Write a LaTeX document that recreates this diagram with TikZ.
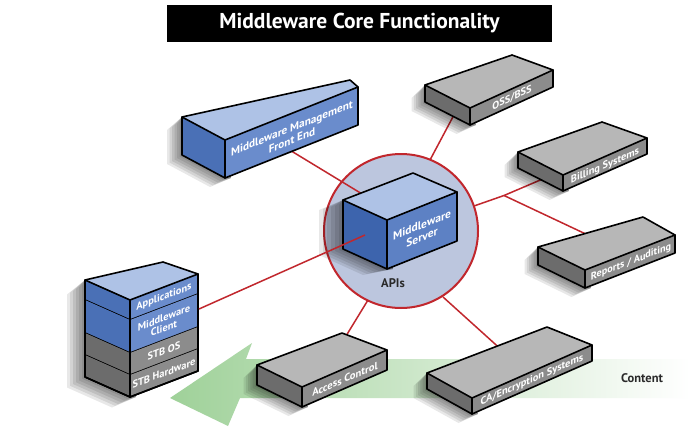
\documentclass[tikz,border=0pt]{standalone}
\usepackage{fontspec}
\setmainfont{PT Sans}
\usetikzlibrary{calc}
\definecolor{topblue}{HTML}{AEC2E6}
\definecolor{frontblue}{HTML}{6A8CCC}
\definecolor{sideblue}{HTML}{4A70B6}
\definecolor{srvfront}{HTML}{5D81C4}
\definecolor{srvside}{HTML}{3D64AD}
\definecolor{topgray}{HTML}{B7B7B7}
\definecolor{frontgray}{HTML}{8C8C8C}
\definecolor{sidegray}{HTML}{6C6C6C}
\definecolor{linkred}{HTML}{C1272D}
\definecolor{hubfill}{HTML}{BCC6DE}
\definecolor{arrowgreen}{HTML}{9FD199}
\definecolor{labeldark}{HTML}{2A2A2A}

% corners of a slab: name, back-left-top, front-left-top, front-right-top, back-right-top, height
\newcommand\defslab[6]{%
  \coordinate (#1-blt) at #2;
  \coordinate (#1-flt) at #3;
  \coordinate (#1-frt) at #4;
  \coordinate (#1-brt) at #5;
  \coordinate (#1-blb) at ($(#1-blt)+(0,#6)$);
  \coordinate (#1-flb) at ($(#1-flt)+(0,#6)$);
  \coordinate (#1-frb) at ($(#1-frt)+(0,#6)$);
}
% paint a slab: name, top colour, side colour, front colour
\newcommand\paintslab[4]{%
  \fill[#2] (#1-blt) -- (#1-flt) -- (#1-frt) -- (#1-brt) -- cycle;
  \fill[#3] (#1-blt) -- (#1-flt) -- (#1-flb) -- (#1-blb) -- cycle;
  \fill[#4] (#1-flt) -- (#1-frt) -- (#1-frb) -- (#1-flb) -- cycle;
  \draw[boxedge] (#1-blt) -- (#1-brt) -- (#1-frt) -- (#1-frb) -- (#1-flb) -- (#1-blb) -- cycle;
  \draw[boxedge] (#1-blt) -- (#1-flt) -- (#1-frt) (#1-flt) -- (#1-flb);
}
% soft shadow on the left of a slab: name, dx, dy
\newcommand\slabshadow[3]{%
  \foreach \t in {0.25,0.5,0.75,1,1.25,1.5}{%
    \fill[black, opacity=0.09]
      (#1-blt) -- ($(#1-blt)+\t*(#2,#3)+(0,4)$) -- ($(#1-blb)+\t*(#2,#3)$) -- ($(#1-flb)+\t*(#2,#3)$) -- ($(#1-flb)+(6,0)$) -- (#1-flt) -- cycle;
  }%
}
% slanted text on a front face: node name, centre, slant, font, text
\newcommand\facelabel[5]{%
  \begin{scope}[shift={#2}, yslant=#3]
    \node[facetxt, font=#4, transform shape] (#1) at (0,0) {#5};
  \end{scope}%
}

\begin{document}
\begin{tikzpicture}[x=1pt, y=-1pt,
  boxedge/.style={black, line width=1.6pt, line join=round, line cap=round},
  link/.style={linkred, line width=1.5pt},
  hubring/.style={draw=linkred, fill=hubfill, line width=2pt},
  facetxt/.style={text=white, align=center, inner sep=0pt},
  titlebox/.style={fill=black, text=white, minimum width=385pt, minimum height=37pt,
    inner sep=0pt, font=\fontsize{21.5}{24}\selectfont\bfseries},
  plainlabel/.style={text=labeldark, inner sep=0pt, font=\fontsize{12.5}{14}\selectfont\bfseries}]
\useasboundingbox (0,0) rectangle (695,428);
\fill[white] (0,0) rectangle (695,428);

% title
\node[titlebox] (title) at (359.5,23.5) {Middleware Core Functionality};

% content arrow
\shade[left color=arrowgreen, right color=white]
  (170,398) -- (252,343) -- (246,359) -- (690,359) -- (690,398) -- (240,398) -- (228,426) -- cycle;
\node[plainlabel] (content) at (642,378) {Content};

% geometry
\defslab{mmfe}{(182,117)}{(225,140)}{(358,87)}{(350,80)}{38}
\defslab{srv}{(343,200)}{(387,220)}{(457,192)}{(413,173)}{49}
\defslab{oss}{(425,85)}{(470,108)}{(553,70)}{(512,55)}{17}
\defslab{bill}{(518,152)}{(563,175)}{(647,138)}{(602,122)}{16}
\defslab{rep}{(538,247)}{(585,270)}{(675,235)}{(643,217)}{18}
\defslab{acc}{(257,365)}{(302,387)}{(387,350)}{(342,333)}{20}
\defslab{ca}{(427,373)}{(472,398)}{(592,345)}{(547,327)}{16}
\defslab{stb}{(85,280)}{(130,300)}{(198,274)}{(163,262)}{97}

% connector end points
\coordinate (hub) at (401,231);
\coordinate (pOSS) at (430,160);
\coordinate (eOSS) at (455,113);
\coordinate (pBill) at (474,206);
\coordinate (jct) at (504,195.5);
\coordinate (eBill) at (545,178);
\coordinate (eRep) at (590,236);
\coordinate (pCA) at (443,297);
\coordinate (eCA) at (505,353);
\coordinate (pAcc) at (368,300);
\coordinate (eAcc) at (346,336);
\coordinate (sMM) at (288,149);
\coordinate (eMM) at (372,200);
\coordinate (sSTB) at (199,309);
\coordinate (eSTB) at (365,235);

% connectors to the outer systems
\draw[link] (pOSS) -- (eOSS);
\draw[link] (pBill) -- (jct) -- (eBill);
\draw[link] (jct) -- (eRep);
\draw[link] (pCA) -- (eCA);
\draw[link] (pAcc) -- (eAcc);

% API hub
\draw[hubring] (hub) circle[radius=77];
\draw[link] (sMM) -- (eMM);

% shadows
\slabshadow{mmfe}{-10}{6}
\slabshadow{srv}{-16}{4}
\slabshadow{oss}{-9}{6}
\slabshadow{bill}{-9}{6}
\slabshadow{rep}{-9}{6}
\slabshadow{acc}{-9}{6}
\slabshadow{ca}{-9}{6}
\slabshadow{stb}{-12}{7}

% boxes
\paintslab{mmfe}{topblue}{sideblue}{frontblue}
\paintslab{srv}{topblue}{srvside}{srvfront}
\paintslab{oss}{topgray}{sidegray}{frontgray}
\paintslab{bill}{topgray}{sidegray}{frontgray}
\paintslab{rep}{topgray}{sidegray}{frontgray}
\paintslab{acc}{topgray}{sidegray}{frontgray}
\paintslab{ca}{topgray}{sidegray}{frontgray}

% set-top box stack
\fill[topblue] (stb-blt) -- (stb-flt) -- (stb-frt) -- (stb-brt) -- cycle;
\foreach \a/\b/\sc/\fc in {0/20/sideblue/frontblue, 20/53/sideblue/frontblue, 53/75/sidegray/frontgray, 75/97/sidegray/frontgray}{
  \fill[\sc] ($(stb-blt)+(0,\a)$) -- ($(stb-flt)+(0,\a)$) -- ($(stb-flt)+(0,\b)$) -- ($(stb-blt)+(0,\b)$) -- cycle;
  \fill[\fc] ($(stb-flt)+(0,\a)$) -- ($(stb-frt)+(0,\a)$) -- ($(stb-frt)+(0,\b)$) -- ($(stb-flt)+(0,\b)$) -- cycle;
  \draw[boxedge] ($(stb-blt)+(0,\b)$) -- ($(stb-flt)+(0,\b)$) -- ($(stb-frt)+(0,\b)$);
}
\draw[boxedge] (stb-blt) -- (stb-brt) -- (stb-frt) -- (stb-frb) -- (stb-flb) -- (stb-blb) -- cycle;
\draw[boxedge] (stb-blt) -- (stb-flt) -- (stb-frt) (stb-flt) -- (stb-flb);

\draw[link] (sSTB) -- (eSTB);

% labels
\node[plainlabel] (apis) at (393,283) {APIs};
\facelabel{lmmfe}{(292,134)}{0.40}{\fontsize{11.2}{12.2}\selectfont\bfseries}{Middleware Management\\Front End}
\facelabel{lsrv}{(422,231)}{0.40}{\fontsize{11.5}{12.5}\selectfont\bfseries}{Middleware\\Server}
\facelabel{loss}{(512,98)}{0.46}{\fontsize{10.4}{11}\selectfont\bfseries}{OSS/BSS}
\facelabel{lbill}{(605,166)}{0.44}{\fontsize{10.4}{11}\selectfont\bfseries}{Billing Systems}
\facelabel{lrep}{(631,262)}{0.39}{\fontsize{10.2}{11}\selectfont\bfseries}{Reports / Auditing}
\facelabel{lacc}{(345,379)}{0.43}{\fontsize{10.6}{11}\selectfont\bfseries}{Access Control}
\facelabel{lca}{(532,380)}{0.44}{\fontsize{10.4}{11}\selectfont\bfseries}{CA/Encryption Systems}
\facelabel{lapp}{(164,297)}{0.38}{\fontsize{10.4}{10.5}\selectfont\bfseries}{Applications}
\facelabel{lmwc}{(164,323)}{0.38}{\fontsize{10.4}{10.5}\selectfont\bfseries}{Middleware\\Client}
\facelabel{lstbos}{(164,351)}{0.38}{\fontsize{10.4}{10.5}\selectfont\bfseries}{STB OS}
\facelabel{lstbhw}{(164,373)}{0.38}{\fontsize{10.4}{10.5}\selectfont\bfseries}{STB Hardware}
\end{tikzpicture}
\end{document}
